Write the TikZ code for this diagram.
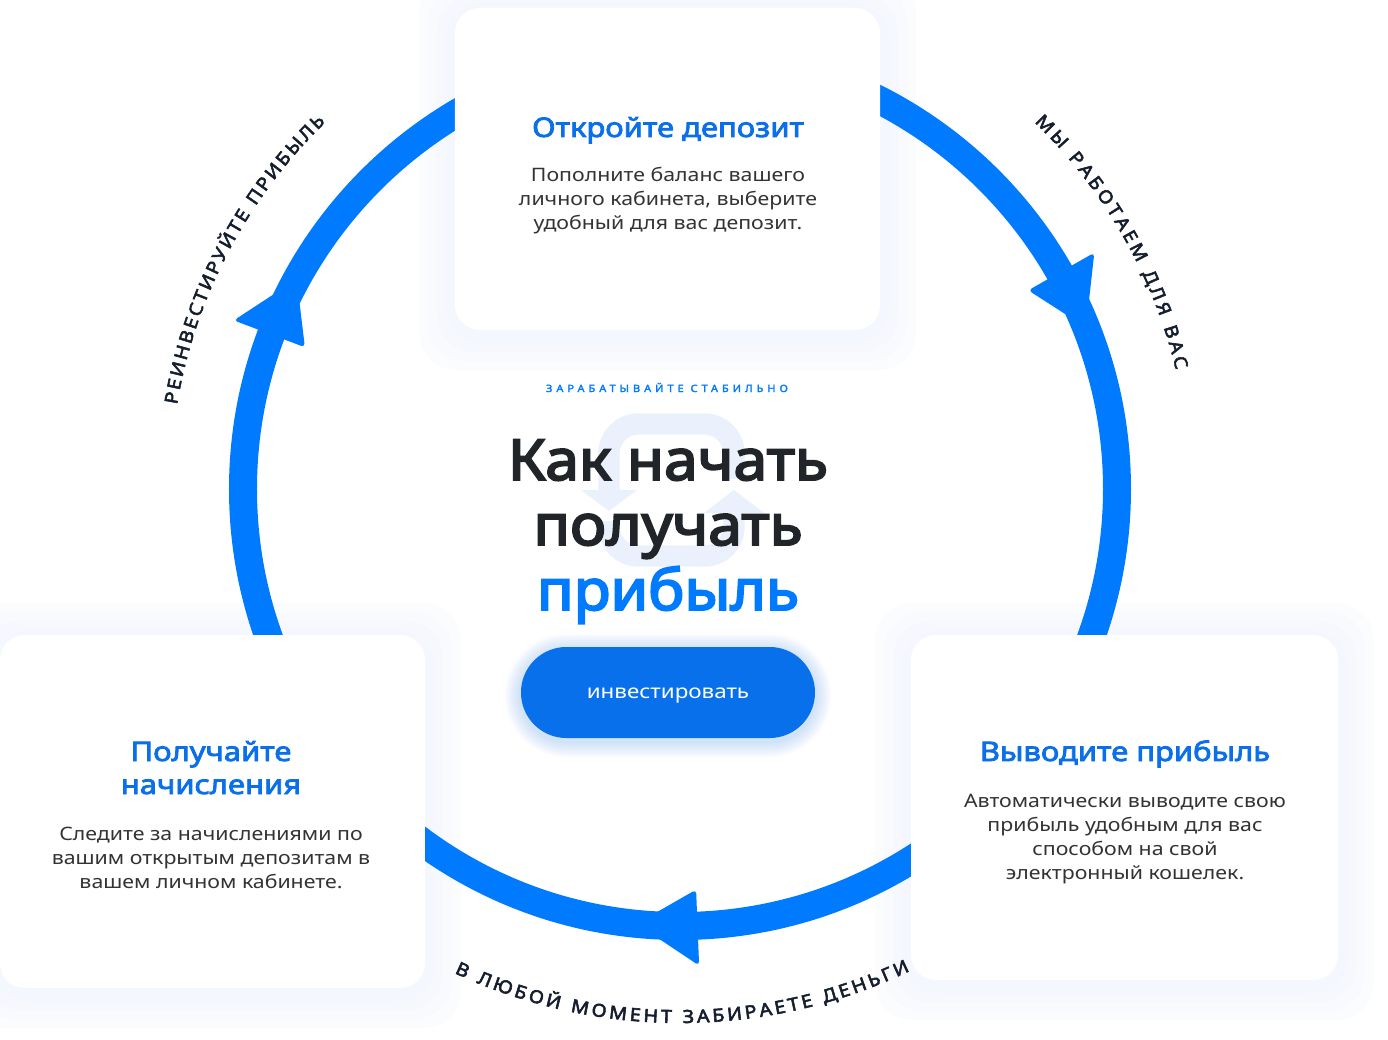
\documentclass[tikz,border=0pt]{standalone}
\usepackage{fontspec}
\setmainfont{Noto Sans}[FakeStretch=1.15, BoldFont={Noto Sans}, BoldFeatures={FakeBold=3}]
\newfontfamily\headfont{Noto Sans}[FakeStretch=1.07, BoldFont={Noto Sans}, BoldFeatures={FakeBold=3.5}]
\newfontfamily\spacedfont{Noto Sans}[LetterSpace=40, FakeStretch=1.1, BoldFont={Noto Sans}, BoldFeatures={FakeBold=2.5}]
\newfontfamily\arcfont{Noto Sans}[FakeStretch=1.1, FakeBold=3]
\usetikzlibrary{decorations.text}

\definecolor{ringblue}{RGB}{0,123,255}
\definecolor{titleblue}{RGB}{10,111,232}
\definecolor{btnblue}{RGB}{8,112,234}
\definecolor{headdark}{RGB}{33,37,41}
\definecolor{bodygrey}{RGB}{51,51,51}
\definecolor{curvenavy}{RGB}{21,30,46}
\definecolor{halo}{RGB}{245,247,254}
\definecolor{markblue}{RGB}{234,241,252}

\newcommand\curvefont{\arcfont\fontsize{13.5}{15}\selectfont}

\tikzset{
  card/.style={fill=white, rounded corners=18.75pt, inner sep=0pt},
  cardtitle/.style={anchor=base, text=titleblue, align=center,
    font=\fontsize{20.2}{24.75}\selectfont\bfseries},
  cardtext/.style={anchor=base, text=bodygrey, align=center,
    font=\fontsize{13.9}{18}\selectfont},
  headline/.style={anchor=base, text=headdark, font=\headfont\fontsize{42.5}{48}\selectfont\bfseries},
  arrowhead/.style={fill=ringblue, rounded corners=3pt},
  curvetext/.style={decorate, decoration={text along path, text color=curvenavy,
    text align=fit to path, text={|\curvefont|#1}}},
}

\begin{document}
\begin{tikzpicture}[x=0.75pt, y=0.75pt]
	\fill[white] (-680,-550) rectangle (708,489);
	\useasboundingbox (-680,-550) rectangle (708,489);

	% halo round the cards
	\foreach \cx/\cy/\w/\h in {-12.5/320/425/322, -467.5/-322.5/425/353, 444.5/-318.5/427/345}
		\foreach \d/\o in {36/0.3, 27/0.4, 18/0.5, 9/0.6}
			\fill[halo, opacity=\o, rounded corners=28pt] (\cx-\w/2-\d, \cy-\h/2-\d-4) rectangle (\cx+\w/2+\d, \cy+\h/2+\d-4);

	% cycle ring and its heads
	\draw[ringblue, line width=21pt] (0,0) circle[radius=437];
	\foreach \a in {29.7, 272.3, 159.3}
		\fill[arrowhead] (\a:401) -- (\a:477) -- (\a-8:437) -- cycle;

	% curved captions
	\path[curvetext={РЕИНВЕСТИРУЙТЕ ПРИБЫЛЬ}] (170.5:510) arc[start angle=170.5, end angle=134, radius=510];
	\path[curvetext={МЫ РАБОТАЕМ ДЛЯ ВАС}] (46:510) arc[start angle=46, end angle=13.5, radius=510];
	\path[curvetext={В ЛЮБОЙ МОМЕНТ ЗАБИРАЕТЕ ДЕНЬГИ}] (245:534) arc[start angle=245, end angle=295.5, radius=534];

	% cards
	\node[card, minimum width=318.75pt, minimum height=241.5pt] (open) at (-12.5,320) {};
	\node[card, minimum width=318.75pt, minimum height=264.75pt] (receive) at (-467.5,-322.5) {};
	\node[card, minimum width=320.25pt, minimum height=258.75pt] (withdraw) at (444.5,-318.5) {};

	\node[cardtitle] (opentitle) at (-12,352) {Откройте депозит};
	\node[cardtext] (opentext) at (-12,259) {Пополните баланс вашего\\личного кабинета, выберите\\удобный для вас депозит.};
	\node[cardtitle] (receivetitle) at (-469,-305) {Получайте\\начисления};
	\node[cardtext] (receivetext) at (-469,-399) {Следите за начислениями по\\вашим открытым депозитам в\\вашем личном кабинете.};
	\node[cardtitle] (withdrawtitle) at (445,-272) {Выводите прибыль};
	\node[cardtext] (withdrawtext) at (445,-390) {Автоматически выводите свою\\прибыль удобным для вас\\способом на свой\\электронный кошелек.};

	% faint logo mark behind the headline
	\draw[markblue, line width=16pt, rounded corners=22pt] (-71,-1) -- (-71,65) -- (54,65) -- (54,10);
	\draw[markblue, line width=16pt, rounded corners=22pt] (54,-24) -- (54,-67) -- (-71,-67) -- (-71,-32);
	\fill[markblue] (-99,-1) -- (-43,-1) -- (-71,-22) -- cycle;
	\fill[markblue] (24,-24) -- (84,-24) -- (54,-1) -- cycle;

	% headline
	\node[anchor=base, text=ringblue, font=\spacedfont\fontsize{7.5}{9}\selectfont\bfseries] (label) at (-13,97) {ЗАРАБАТЫВАЙТЕ СТАБИЛЬНО};
	\node[headline] (line1) at (-12,9) {Как начать};
	\node[headline] (line2) at (-12,-56) {получать};
	\node[headline, text=ringblue] (line3) at (-12,-121) {прибыль};

	% button
	\foreach \d in {2,4,...,16}
		\fill[btnblue, opacity=0.025, rounded corners={(45.5+\d)*0.75pt}] (-159-\d,-252-\d) rectangle (135+\d,-161+\d);
	\node[fill=btnblue, rounded corners=34pt, minimum width=220.5pt, minimum height=68.25pt] (invest) at (-12,-203.5) {};
	\node[anchor=base, text=white, font=\fontsize{14.6}{16}\selectfont] (investtext) at (-12,-209) {инвестировать};
\end{tikzpicture}
\end{document}
